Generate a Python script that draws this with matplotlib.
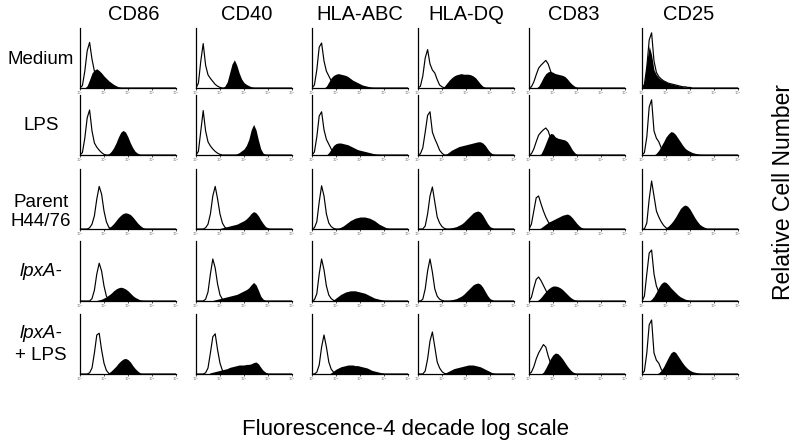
import numpy as np
import matplotlib
matplotlib.use("Agg")
import matplotlib.pyplot as plt

# ---------------- data (heights in % of panel height, sampled every 0.1 decade) ----------------
markers = ["CD86", "CD40", "HLA-ABC", "HLA-DQ", "CD83", "CD25"]
conditions = ["Medium", "LPS", "Parent\nH44/76", "lpxA-", "lpxA-\n+ LPS"]
tick_labels = ["10\u2070", "10\u00b9", "10\u00b2", "10\u00b3", "10\u2074"]

# Medium
medium_cd86_ctrl = [0, 4, 28, 62, 76, 48, 28, 14, 6, 2, 0]
medium_cd86_stain = [0, 0, 0, 4, 14, 25, 30, 32, 29, 25, 20, 16, 12, 9, 6, 4, 2, 1, 0]
medium_cd40_ctrl = [0, 8, 45, 74, 38, 22, 16, 11, 6, 3, 1, 0]
medium_cd40_stain = [0] * 12 + [3, 10, 25, 40, 47, 38, 25, 15, 9, 6, 4, 2, 1, 0]
medium_hlaabc_ctrl = [0, 5, 30, 68, 75, 45, 28, 20, 12, 5, 2, 0]
medium_hlaabc_stain = [0] * 6 + [3, 10, 17, 21, 23, 24, 23, 22, 21, 19, 16, 13, 11, 9, 7, 5, 4, 3, 2, 1, 1, 0]
medium_hladq_ctrl = [0, 3, 20, 50, 64, 40, 30, 25, 14, 5, 2, 0]
medium_hladq_stain = [0] * 11 + [3, 8, 13, 17, 20, 22, 23, 24, 23, 23, 23, 22, 20, 17, 12, 7, 3, 1, 0]
medium_cd83_ctrl = [0, 2, 10, 22, 33, 38, 42, 46, 40, 28, 16, 8, 3, 0]
medium_cd83_stain = [0] * 4 + [3, 10, 18, 24, 27, 28, 26, 24, 23, 22, 21, 19, 15, 10, 6, 3, 1, 0]
medium_cd25_ctrl = [0, 6, 35, 80, 92, 45, 26, 19, 15, 12, 10, 8, 7, 6, 5, 4, 3, 2, 2, 1, 1, 0]
medium_cd25_stain = [0, 10, 45, 70, 55, 30, 22, 17, 14, 12, 10, 8, 7, 6, 5, 4, 3, 2, 2, 1, 1, 0]

# LPS
lps_cd86_ctrl = [0, 4, 28, 62, 75, 40, 20, 13, 8, 4, 1, 0]
lps_cd86_stain = [0] * 12 + [2, 6, 12, 20, 30, 38, 41, 38, 30, 20, 12, 6, 3, 1, 0]
lps_cd40_ctrl = [0, 6, 40, 74, 40, 22, 15, 10, 6, 3, 1, 0]
lps_cd40_stain = [0] * 17 + [2, 4, 7, 10, 16, 26, 42, 51, 42, 25, 10, 3, 1, 0]
lps_hlaabc_ctrl = [0, 5, 30, 65, 72, 42, 26, 18, 10, 4, 1, 0]
lps_hlaabc_stain = [0] * 7 + [4, 10, 16, 19, 20, 20, 19, 18, 17, 15, 13, 11, 9, 8, 7, 6, 5, 4, 3, 2, 1, 1, 0]
lps_hladq_ctrl = [0, 2, 12, 38, 66, 72, 38, 27, 18, 8, 3, 0]
lps_hladq_stain = [0] * 12 + [2, 5, 8, 10, 12, 14, 15, 16, 17, 18, 19, 20, 21, 22, 22, 20, 16, 10, 5, 2, 1, 0]
lps_cd83_ctrl = [0, 2, 10, 22, 33, 38, 42, 45, 40, 28, 16, 8, 3, 0]
lps_cd83_stain = [0] * 5 + [2, 10, 20, 30, 36, 35, 30, 28, 27, 26, 25, 22, 16, 9, 4, 1, 0]
lps_cd25_ctrl = [0, 4, 30, 80, 92, 40, 28, 22, 12, 4, 1, 0]
lps_cd25_stain = [0] * 6 + [3, 8, 15, 22, 30, 35, 39, 38, 34, 28, 22, 16, 11, 8, 6, 4, 3, 2, 1, 1, 0]

# Parent H44/76
parent_cd86_ctrl = [0] * 4 + [2, 8, 22, 50, 71, 58, 30, 12, 3, 0]
parent_cd86_stain = [0] * 12 + [2, 5, 9, 14, 19, 23, 26, 27, 26, 24, 20, 15, 10, 6, 3, 1, 0]
parent_cd40_ctrl = [0] * 4 + [2, 8, 25, 55, 71, 50, 25, 10, 3, 0]
parent_cd40_stain = [0] * 10 + [1, 2, 3, 4, 5, 6, 7, 8, 10, 12, 14, 17, 21, 26, 29, 27, 22, 15, 9, 4, 2, 0]
parent_hlaabc_ctrl = [0, 2, 12, 45, 72, 55, 25, 10, 4, 1, 0]
parent_hlaabc_stain = [0] * 11 + [1, 3, 5, 8, 11, 14, 16, 18, 19, 20, 20, 20, 19, 18, 16, 14, 11, 8, 6, 4, 2, 1, 0]
parent_hladq_ctrl = [0, 0, 0, 5, 25, 55, 70, 45, 20, 10, 4, 1, 0]
parent_hladq_stain = [0] * 13 + [1, 2, 3, 4, 6, 8, 11, 15, 19, 23, 27, 29, 30, 28, 23, 16, 9, 4, 2, 0]
parent_cd83_ctrl = [0, 8, 30, 52, 55, 42, 30, 20, 12, 6, 3, 1, 0]
parent_cd83_stain = [0] * 5 + [2, 5, 8, 11, 13, 15, 17, 19, 21, 23, 24, 25, 23, 19, 14, 9, 5, 2, 1, 0]
parent_cd25_ctrl = [0, 0, 10, 50, 80, 55, 30, 20, 12, 6, 2, 0]
parent_cd25_stain = [0] * 10 + [2, 5, 9, 14, 20, 27, 34, 38, 40, 38, 33, 26, 19, 13, 8, 5, 3, 1, 0]

# lpxA-
lpxa_cd86_ctrl = [0] * 5 + [4, 18, 45, 63, 50, 25, 8, 2, 0]
lpxa_cd86_stain = [0] * 7 + [1, 2, 3, 5, 7, 10, 13, 17, 20, 22, 23, 22, 20, 17, 13, 9, 6, 4, 2, 1, 1, 0]
lpxa_cd40_ctrl = [0] * 4 + [3, 15, 45, 70, 55, 28, 10, 3, 0]
lpxa_cd40_stain = [0] * 7 + [1, 2, 3, 4, 5, 6, 7, 8, 9, 10, 11, 13, 15, 17, 19, 22, 27, 31, 27, 18, 8, 3, 1, 0]
lpxa_hlaabc_ctrl = [0, 2, 12, 45, 70, 52, 25, 10, 4, 1, 0]
lpxa_hlaabc_stain = [0] * 9 + [2, 5, 8, 11, 13, 15, 16, 17, 17, 17, 16, 15, 14, 13, 11, 9, 7, 5, 4, 3, 2, 1, 0]
lpxa_hladq_ctrl = [0, 0, 3, 20, 50, 70, 48, 20, 8, 3, 1, 0]
lpxa_hladq_stain = [0] * 13 + [1, 2, 3, 4, 6, 8, 11, 15, 19, 23, 27, 29, 30, 28, 23, 16, 9, 4, 2, 0]
lpxa_cd83_ctrl = [0, 6, 22, 36, 40, 34, 26, 18, 10, 5, 2, 0]
lpxa_cd83_stain = [0] * 4 + [2, 6, 11, 16, 20, 23, 25, 25, 24, 22, 19, 15, 11, 7, 4, 2, 1, 0]
lpxa_cd25_ctrl = [0, 8, 45, 80, 85, 45, 25, 15, 8, 3, 1, 0]
lpxa_cd25_stain = [0] * 4 + [3, 8, 15, 23, 29, 32, 31, 27, 22, 18, 14, 10, 7, 5, 3, 2, 1, 0]

# lpxA- + LPS
lpxalps_cd86_ctrl = [0] * 4 + [2, 10, 35, 65, 68, 40, 18, 6, 1, 0]
lpxalps_cd86_stain = [0] * 12 + [2, 5, 9, 13, 18, 22, 25, 26, 24, 20, 14, 9, 5, 2, 0]
lpxalps_cd40_ctrl = [0] * 4 + [2, 10, 35, 62, 67, 40, 18, 6, 1, 0]
lpxalps_cd40_stain = [0] * 6 + [2, 3, 4, 5, 6, 7, 8, 9, 11, 12, 13, 14, 15, 15, 15, 16, 16, 17, 19, 20, 17, 11, 6, 3, 1, 0]
lpxalps_hlaabc_ctrl = [0, 0, 3, 15, 45, 65, 45, 20, 8, 3, 1, 0]
lpxalps_hlaabc_stain = [0] * 8 + [2, 5, 8, 10, 12, 13, 14, 15, 15, 15, 14, 14, 13, 12, 11, 10, 8, 6, 5, 4, 3, 2, 1, 0]
lpxalps_hladq_ctrl = [0, 0, 0, 5, 25, 55, 70, 45, 20, 10, 4, 1, 0]
lpxalps_hladq_stain = [0] * 11 + [1, 3, 5, 7, 9, 10, 11, 12, 13, 14, 15, 15, 15, 14, 13, 12, 10, 8, 6, 4, 2, 1, 0]
lpxalps_cd83_ctrl = [0, 3, 12, 25, 35, 42, 49, 45, 30, 18, 8, 3, 0]
lpxalps_cd83_stain = [0] * 6 + [3, 10, 18, 26, 32, 35, 34, 30, 25, 19, 13, 8, 4, 2, 0]
lpxalps_cd25_ctrl = [0, 5, 35, 82, 90, 35, 23, 18, 8, 2, 0]
lpxalps_cd25_stain = [0] * 7 + [2, 6, 12, 20, 28, 35, 38, 36, 30, 24, 18, 13, 9, 6, 4, 3, 2, 1, 1, 0]

ctrl_rows = [
    [medium_cd86_ctrl, medium_cd40_ctrl, medium_hlaabc_ctrl, medium_hladq_ctrl, medium_cd83_ctrl, medium_cd25_ctrl],
    [lps_cd86_ctrl, lps_cd40_ctrl, lps_hlaabc_ctrl, lps_hladq_ctrl, lps_cd83_ctrl, lps_cd25_ctrl],
    [parent_cd86_ctrl, parent_cd40_ctrl, parent_hlaabc_ctrl, parent_hladq_ctrl, parent_cd83_ctrl, parent_cd25_ctrl],
    [lpxa_cd86_ctrl, lpxa_cd40_ctrl, lpxa_hlaabc_ctrl, lpxa_hladq_ctrl, lpxa_cd83_ctrl, lpxa_cd25_ctrl],
    [lpxalps_cd86_ctrl, lpxalps_cd40_ctrl, lpxalps_hlaabc_ctrl, lpxalps_hladq_ctrl, lpxalps_cd83_ctrl, lpxalps_cd25_ctrl],
]
stain_rows = [
    [medium_cd86_stain, medium_cd40_stain, medium_hlaabc_stain, medium_hladq_stain, medium_cd83_stain, medium_cd25_stain],
    [lps_cd86_stain, lps_cd40_stain, lps_hlaabc_stain, lps_hladq_stain, lps_cd83_stain, lps_cd25_stain],
    [parent_cd86_stain, parent_cd40_stain, parent_hlaabc_stain, parent_hladq_stain, parent_cd83_stain, parent_cd25_stain],
    [lpxa_cd86_stain, lpxa_cd40_stain, lpxa_hlaabc_stain, lpxa_hladq_stain, lpxa_cd83_stain, lpxa_cd25_stain],
    [lpxalps_cd86_stain, lpxalps_cd40_stain, lpxalps_hlaabc_stain, lpxalps_hladq_stain, lpxalps_cd83_stain, lpxalps_cd25_stain],
]

# ---------------- layout ----------------
W, H = 800, 446
decades = np.arange(41) * 0.1


def padded(vals):
    arr = np.zeros(len(decades))
    arr[:len(vals)] = vals
    return arr


col_left_px = [80, 196, 312, 418, 529, 642]
row_base_px = [88, 155, 229, 301, 374]
panel_w, panel_h = 96, 60
header_x_px = [134, 247, 360, 466, 574, 689]
label_y_px = [60, 126, 212, 272, 344]

plt.rcParams["font.family"] = ["Liberation Sans", "DejaVu Sans"]
fig = plt.figure(figsize=(W / 100, H / 100), dpi=100)
fig.patch.set_facecolor("white")

for r in range(5):
    for c in range(6):
        ax = fig.add_axes([col_left_px[c] / W, 1 - row_base_px[r] / H, panel_w / W, panel_h / H])
        ctrl = padded(ctrl_rows[r][c])
        stain = padded(stain_rows[r][c])
        ax.fill_between(decades, 0, stain, color="black", lw=0)
        ax.plot(decades, ctrl, color="black", lw=0.85)
        ax.set_xlim(0, 4)
        ax.set_ylim(0, 100)
        for s in ["top", "right"]:
            ax.spines[s].set_visible(False)
        for s in ["left", "bottom"]:
            ax.spines[s].set_linewidth(0.9)
        ax.set_yticks([])
        ax.set_xticks(range(5))
        ax.set_xticklabels(tick_labels, fontsize=2.5, color="#666666", family="DejaVu Sans")
        ax.tick_params(axis="x", length=1.5, width=0.5, pad=0.5)
        ax.set_facecolor("none")

for c, name in enumerate(markers):
    fig.text(header_x_px[c] / W, 1 - 15 / H, name, ha="center", va="center", fontsize=14.5)

for r, name in enumerate(conditions):
    style = "italic" if name.startswith("lpxA") else "normal"
    if r == 4:
        fig.text(41 / W, 1 - 333 / H, "lpxA-", ha="center", va="center", fontsize=13.5, style="italic")
        fig.text(41 / W, 1 - 355 / H, "+ LPS", ha="center", va="center", fontsize=13.5)
    else:
        fig.text(41 / W, 1 - label_y_px[r] / H, name, ha="center", va="center", fontsize=13.5,
                 style=style, linespacing=1.15)

fig.text(783 / W, 1 - 192 / H, "Relative Cell Number", rotation=90, ha="center", va="center", fontsize=16.5)
fig.text(405 / W, 1 - 429 / H, "Fluorescence-4 decade log scale", ha="center", va="center", fontsize=16)

fig.savefig("out.png", dpi=100, facecolor="white")
